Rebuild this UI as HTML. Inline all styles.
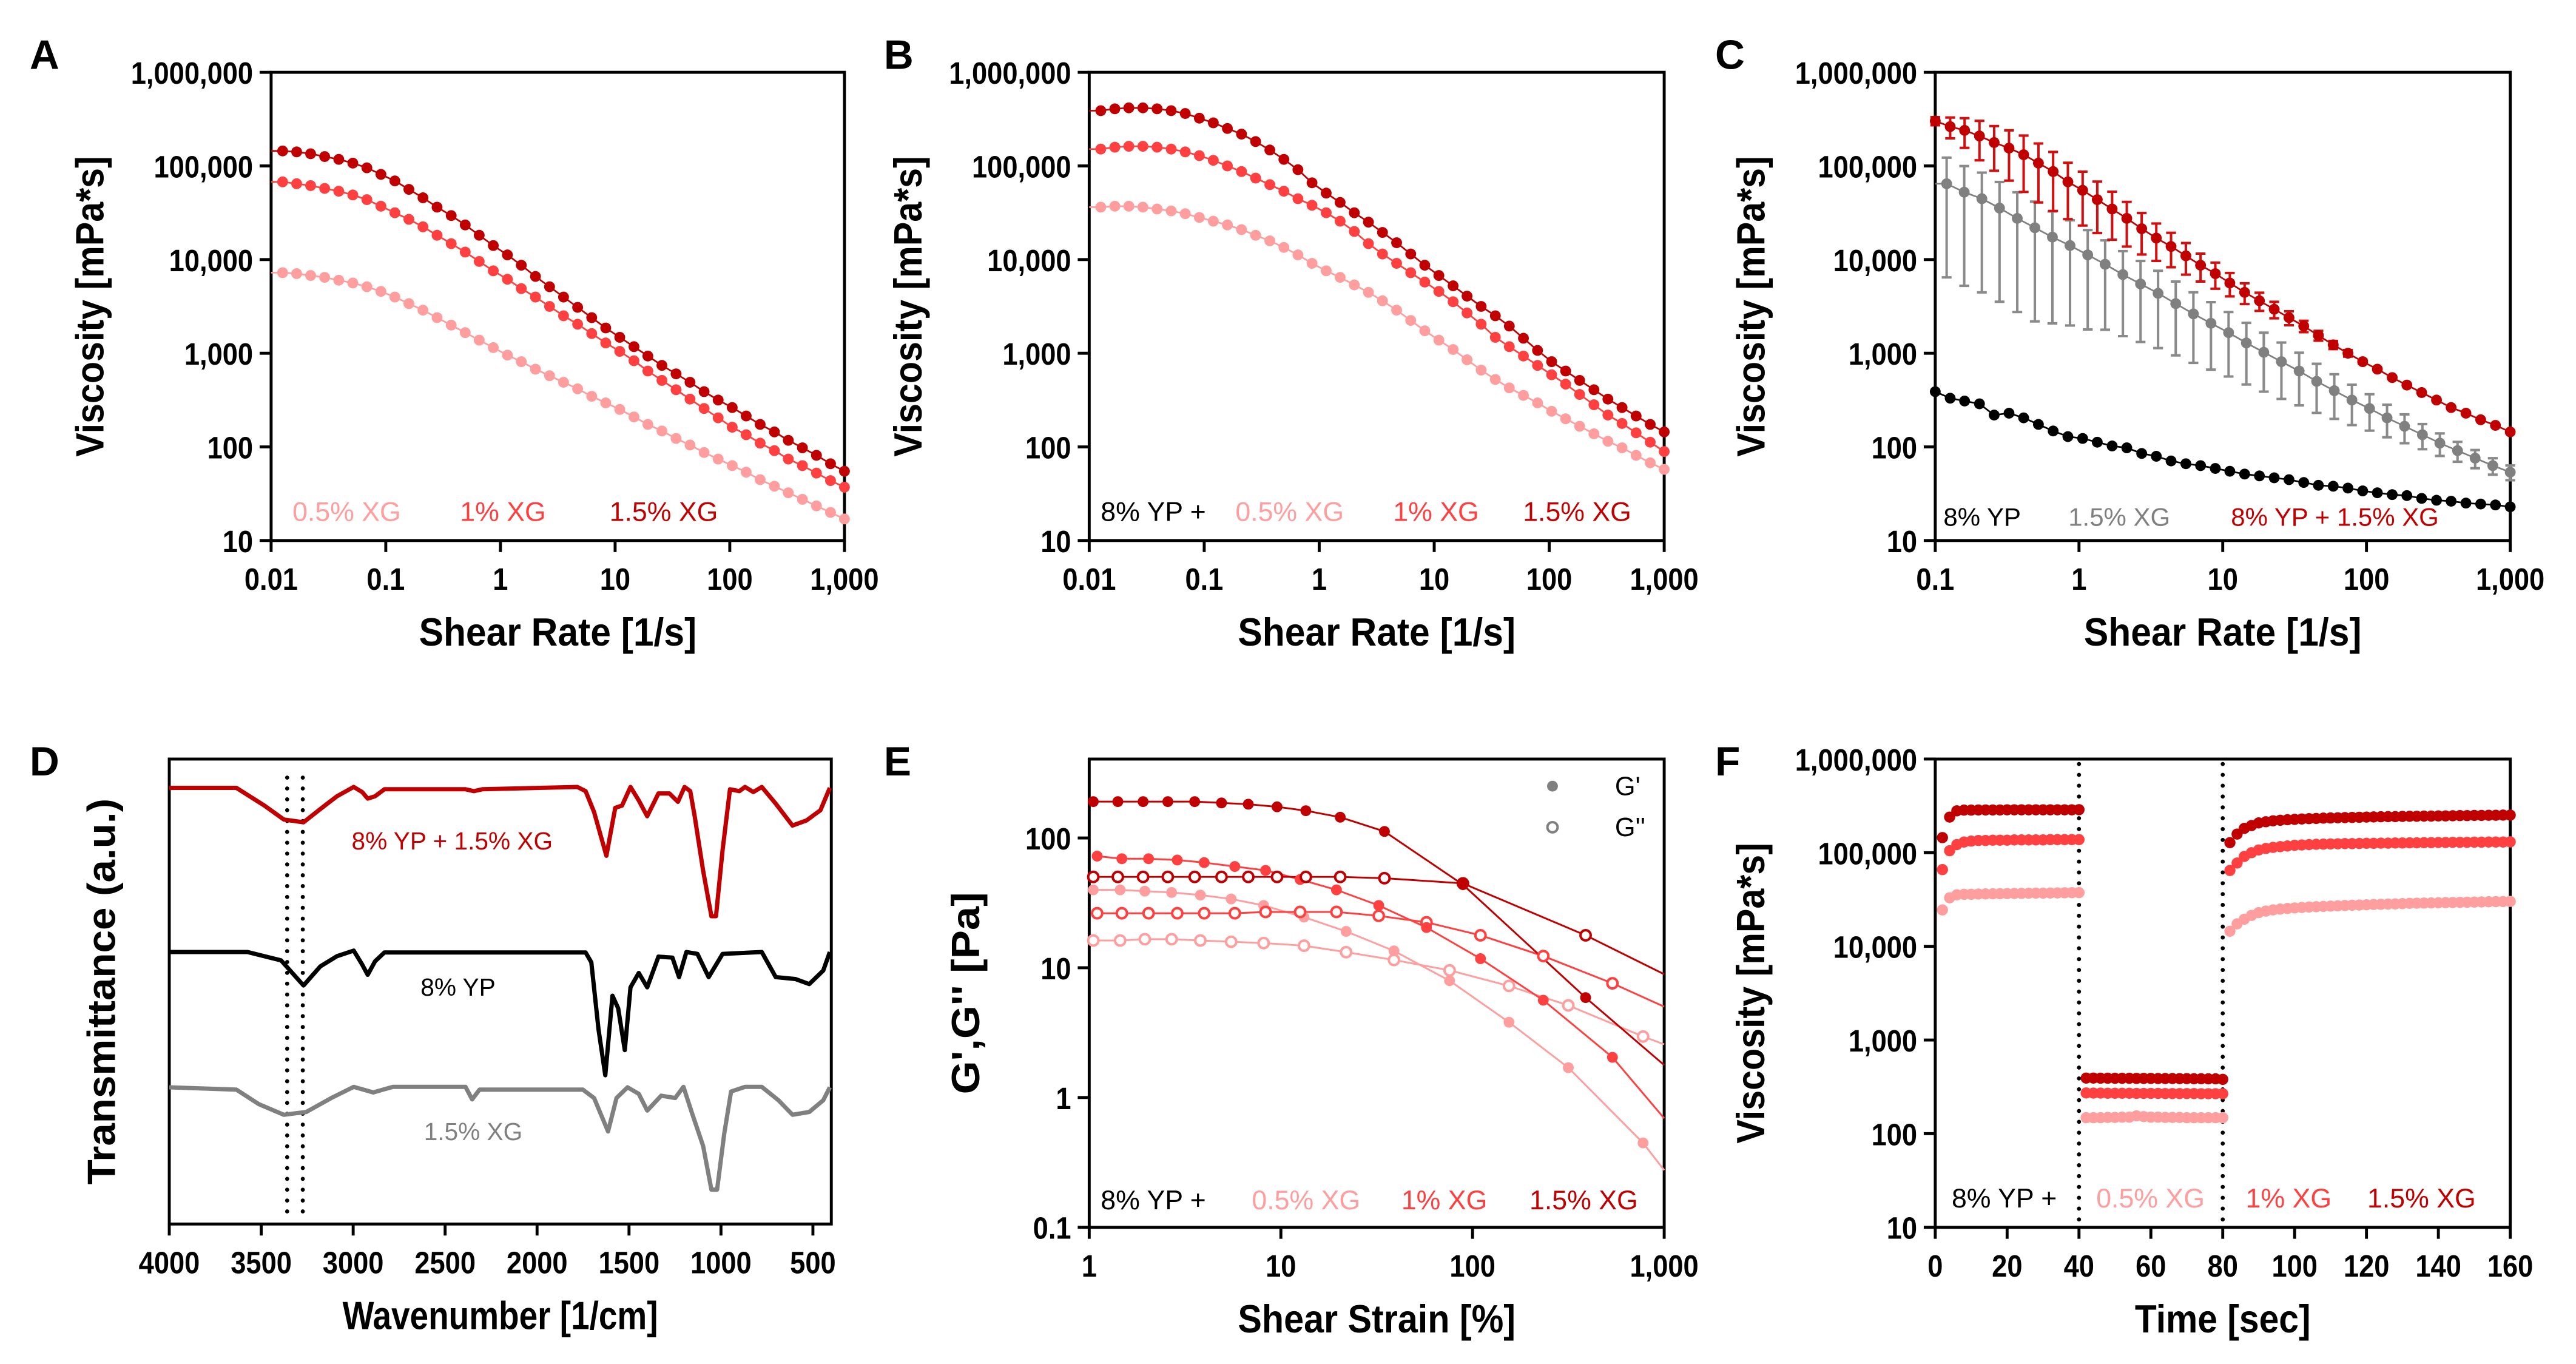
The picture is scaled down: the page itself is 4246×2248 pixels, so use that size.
<!DOCTYPE html>
<html><head><meta charset="utf-8">
<style>
html,body{margin:0;padding:0;background:#fff;}
svg{display:block;font-family:"Liberation Sans",Arial,sans-serif;}
</style></head>
<body>
<svg id="fig" width="4246" height="2248" viewBox="0 0 1568 830.2" xmlns="http://www.w3.org/2000/svg"></svg>
<script>
// ---------- Panel A/B data (shear rate grid, log10 viscosity mPa*s) ----------
const shearRateAB=[0.0126,0.0167,0.0221,0.0293,0.0389,0.0516,0.0684,0.0907,0.120,0.159,0.211,0.280,0.372,0.493,0.653,0.866,1.15,1.52,2.02,2.68,3.55,4.71,6.25,8.28,10.98,14.6,19.3,25.6,34.0,45.0,59.7,79.2,105,139,184,245,324,430,570,756,1000];
const logViscA15=[5.16,5.15,5.13,5.10,5.07,5.03,4.98,4.91,4.84,4.75,4.66,4.56,4.47,4.37,4.26,4.15,4.05,3.94,3.82,3.71,3.60,3.49,3.38,3.27,3.17,3.07,2.97,2.87,2.78,2.69,2.59,2.50,2.42,2.33,2.24,2.16,2.07,1.99,1.91,1.82,1.74];
const logViscA10=[4.83,4.81,4.79,4.76,4.73,4.69,4.64,4.57,4.50,4.43,4.35,4.26,4.17,4.08,3.98,3.88,3.79,3.69,3.60,3.50,3.40,3.31,3.21,3.11,3.02,2.92,2.81,2.71,2.61,2.51,2.41,2.31,2.21,2.13,2.04,1.96,1.87,1.80,1.72,1.64,1.57];
const logViscA05=[3.86,3.85,3.83,3.81,3.78,3.75,3.71,3.66,3.60,3.53,3.46,3.38,3.30,3.22,3.14,3.06,2.98,2.91,2.83,2.76,2.69,2.62,2.54,2.47,2.40,2.32,2.24,2.17,2.09,2.02,1.94,1.87,1.80,1.73,1.65,1.58,1.51,1.44,1.37,1.30,1.23];
const logViscB15=[5.59,5.61,5.62,5.62,5.61,5.59,5.56,5.51,5.46,5.40,5.34,5.26,5.17,5.07,4.96,4.82,4.71,4.61,4.50,4.40,4.29,4.18,4.06,3.94,3.83,3.72,3.61,3.50,3.40,3.29,3.16,3.03,2.91,2.81,2.71,2.61,2.51,2.42,2.33,2.24,2.16];
const logViscB10=[5.18,5.20,5.21,5.21,5.20,5.18,5.15,5.11,5.06,5.00,4.94,4.87,4.80,4.73,4.65,4.58,4.50,4.41,4.30,4.17,4.06,3.96,3.86,3.76,3.66,3.55,3.43,3.31,3.17,3.07,2.97,2.87,2.77,2.67,2.56,2.45,2.34,2.25,2.15,2.05,1.95];
const logViscB05=[4.56,4.57,4.57,4.56,4.54,4.52,4.49,4.45,4.41,4.37,4.32,4.26,4.20,4.13,4.05,3.96,3.88,3.81,3.73,3.65,3.56,3.46,3.35,3.24,3.14,3.04,2.93,2.82,2.72,2.63,2.55,2.47,2.38,2.30,2.22,2.14,2.06,1.99,1.91,1.83,1.76];

// ---------- Panel C data ----------
const shearRateC=[0.1,0.127,0.160,0.203,0.257,0.326,0.412,0.522,0.661,0.837,1.06,1.34,1.70,2.15,2.73,3.45,4.37,5.54,7.01,8.88,11.2,14.2,18.0,22.8,28.9,36.6,46.3,58.7,74.3,94.1,119,151,191,242,307,388,492,623,789,1000];
const logViscCmix=[5.48,5.42,5.38,5.32,5.25,5.19,5.12,5.03,4.94,4.83,4.74,4.64,4.54,4.44,4.33,4.23,4.14,4.04,3.94,3.85,3.75,3.65,3.56,3.47,3.38,3.29,3.19,3.09,3.00,2.91,2.83,2.74,2.66,2.58,2.50,2.42,2.36,2.29,2.23,2.16];
const cvCmix=[0.1,0.25,0.35,0.45,0.5,0.55,0.6,0.62,0.62,0.6,0.58,0.56,0.53,0.5,0.47,0.43,0.4,0.37,0.33,0.31,0.28,0.25,0.22,0.2,0.17,0.14,0.12,0.1,0.08,0.05,0,0,0,0,0,0,0,0,0,0];
const shearRateCxg=shearRateAB.slice(8);
const logViscCxg=[4.81,4.72,4.65,4.55,4.44,4.34,4.24,4.15,4.05,3.95,3.84,3.74,3.64,3.53,3.42,3.32,3.22,3.11,3.01,2.91,2.81,2.70,2.60,2.50,2.41,2.31,2.22,2.13,2.04,1.96,1.88,1.80,1.73];
const cvCxg=[0.9,0.9,0.9,0.9,0.9,0.9,0.88,0.86,0.84,0.8,0.78,0.76,0.74,0.72,0.7,0.68,0.66,0.64,0.62,0.6,0.57,0.54,0.5,0.46,0.42,0.38,0.34,0.3,0.27,0.24,0.22,0.2,0.18];
const logViscCyp=[2.59,2.52,2.49,2.46,2.34,2.36,2.31,2.24,2.17,2.11,2.09,2.05,2.01,1.99,1.93,1.90,1.85,1.82,1.80,1.77,1.74,1.71,1.69,1.67,1.65,1.62,1.59,1.58,1.56,1.53,1.51,1.49,1.48,1.45,1.43,1.42,1.40,1.39,1.38,1.36];

// ---------- Panel D data (FTIR) ----------
const wnMix=[4000,3635,3483,3377,3270,3164,3088,2997,2951,2921,2881,2830,2389,2343,2298,1781,1736,1690,1623,1575,1538,1492,1447,1401,1340,1280,1234,1198,1167,1143,1097,1052,1027,991,951,900,869,824,778,702,611,535,459,408];
const trMix=[93.8,93.8,90.0,87.0,86.4,89.7,92.0,94.0,92.9,91.5,92.0,93.5,93.5,93.1,93.5,94.0,93.1,88.6,79.2,89.5,90.0,94.0,91.1,87.7,92.6,92.6,90.8,94.0,93.1,87.7,76.0,66.2,66.2,80.5,93.5,93.1,94.0,92.9,94.0,90.4,85.7,86.8,89.0,93.8];
const wnYP=[4000,3574,3392,3270,3179,3088,2997,2951,2921,2881,2830,1736,1705,1666,1629,1590,1559,1523,1492,1447,1401,1340,1264,1228,1188,1128,1067,991,778,702,596,520,444,408];
const trYP=[58.5,58.5,56.7,51.3,55.4,57.6,58.8,55.8,53.6,56.5,58.4,58.4,56.3,41.9,32.0,49.1,46.4,37.4,50.9,54.0,50.9,57.5,57.3,53.1,58.5,58.1,53.1,58.1,58.5,53.1,52.7,51.6,54.5,58.5];
const wnXG=[4000,3635,3514,3377,3255,3119,2997,2891,2784,2389,2353,2313,1751,1690,1614,1568,1508,1447,1401,1325,1249,1204,1158,1097,1052,1021,982,945,869,778,687,611,520,444,408];
const trXG=[29.4,28.9,25.8,23.5,24.1,27.1,29.5,28.3,29.5,29.5,26.8,28.9,28.9,27.1,19.9,27.1,29.4,28.0,24.4,27.6,27.1,29.5,23.9,16.8,7.4,7.4,19.5,28.5,29.5,29.5,26.6,23.5,24.1,26.6,29.4];
const wnMarkers=[3359,3274];

// ---------- Panel E data (amplitude sweep, log10 Pa) ----------
const strainE15=[1.05,1.41,1.91,2.57,3.55,4.9,6.76,9.55,13.5,20.4,34.7,89.1,389,1000];
const logGp15=[2.28,2.28,2.28,2.28,2.28,2.27,2.26,2.24,2.21,2.16,2.05,1.64,0.77,0.25];
const logGpp15=[1.70,1.70,1.70,1.70,1.70,1.70,1.70,1.70,1.70,1.70,1.69,1.65,1.25,0.95];
const strainE10=[1.1,1.48,2.04,2.88,3.98,5.75,8.32,12.6,19.5,32.4,57.5,110,234,537,1000];
const logGp10=[1.86,1.84,1.84,1.83,1.81,1.78,1.75,1.68,1.60,1.48,1.31,1.07,0.75,0.31,-0.16];
const logGpp10=[1.42,1.42,1.42,1.42,1.42,1.42,1.43,1.43,1.43,1.40,1.35,1.25,1.09,0.88,0.70];
const strainE05=[1.05,1.45,1.95,2.69,3.8,5.5,8.13,13.2,21.9,38.9,75.9,155,316,776,1000];
const logGp05=[1.60,1.60,1.59,1.58,1.56,1.53,1.48,1.39,1.28,1.13,0.90,0.58,0.23,-0.35,-0.56];
const logGpp05=[1.21,1.21,1.22,1.22,1.21,1.20,1.19,1.17,1.12,1.06,0.98,0.86,0.71,0.47,0.41];

// ---------- Panel F data (3-interval thixotropy, mPa*s) ----------
const timeF=[2,4,6,8,10,12,14,16,18,20,22,24,26,28,30,32,34,36,38,40,42,44,46,48,50,52,54,56,58,60,62,64,66,68,70,72,74,76,78,80,82,84,86,88,90,92,94,96,98,100,102,104,106,108,110,112,114,116,118,120,122,124,126,128,130,132,134,136,138,140,142,144,146,148,150,152,154,156,158,160];
const viscF15=[145000,240000,280000,285000,285000,286000,286000,286000,286000,287000,287000,287000,287000,287000,287000,287000,287000,287000,287000,288000,
392,392,391,391,390,390,390,389,389,389,388,388,388,387,387,386,386,385,385,380,
128000,158000,182000,195000,208000,214000,219000,222000,225000,227000,229000,231000,232000,234000,235000,236000,237000,238000,239000,240000,241000,242000,243000,243000,244000,245000,245000,246000,246000,247000,247000,248000,249000,249000,250000,250000,251000,251000,252000,252000];
const viscF10=[66000,105000,122000,130000,133000,135000,135000,136000,136000,136000,137000,137000,137000,137000,137000,138000,138000,138000,138000,138000,
272,271,271,270,270,270,270,269,269,269,269,268,268,268,268,268,267,267,267,267,
64600,77600,91200,100000,107000,111000,114000,116000,118000,120000,121000,122000,123000,123500,124000,124500,125000,125000,125500,126000,126000,126500,126500,127000,127000,127500,127500,128000,128000,128500,128500,129000,129000,129000,129500,129500,130000,130000,130000,130500];
const viscF05=[24500,33000,35500,36000,36000,36200,36300,36400,36500,36600,36700,36800,36900,37000,37000,37100,37200,37300,37400,37500,
148,148,148,149,149,150,150,155,152,150,150,149,149,149,148,148,148,148,148,148,
14500,17400,19500,21400,22900,23800,24500,25000,25400,25700,26000,26300,26500,26700,26900,27100,27300,27500,27600,27800,28000,28100,28300,28400,28600,28800,28900,29000,29100,29200,29300,29400,29500,29600,29700,29800,29900,30000,30100,30200];
const intervalBoundsF=[40,80];

// ---------- Tick data ----------
const viscTicks=[10,100,1000,10000,100000,1000000];
const viscTickLabels=['10','100','1,000','10,000','100,000','1,000,000'];
const rateTicksAB=[0.01,0.1,1,10,100,1000];
const rateTickLabelsAB=['0.01','0.1','1','10','100','1,000'];
const rateTicksC=[0.1,1,10,100,1000];
const rateTickLabelsC=['0.1','1','10','100','1,000'];
const wnTicks=[4000,3500,3000,2500,2000,1500,1000,500];
const wnTickLabels=['4000','3500','3000','2500','2000','1500','1000','500'];
const strainTicks=[1,10,100,1000];
const strainTickLabels=['1','10','100','1,000'];
const modTicks=[0.1,1,10,100];
const modTickLabels=['0.1','1','10','100'];
const timeTicks=[0,20,40,60,80,100,120,140,160];
const timeTickLabels=['0','20','40','60','80','100','120','140','160'];

const DARK='#C00000', MID='#FF4040', LIGHT='#FF9E9E', GRAY='#808080';
const NS='http://www.w3.org/2000/svg';
const svg=document.getElementById('fig');
function mk(tag,parent,attrs){const e=document.createElementNS(NS,tag);for(const k in attrs)e.setAttribute(k,attrs[k]);parent.appendChild(e);return e;}
function logS(d0,d1,r0,r1){return v=>r0+(Math.log10(v)-d0)/(d1-d0)*(r1-r0);}
function linS(d0,d1,r0,r1){return v=>r0+(v-d0)/(d1-d0)*(r1-r0);}
const pw=a=>a.map(v=>Math.pow(10,v));

function axes(g,b,xt,xl,yt,yl,sx,sy,xTitle,xTitleLen,yTitle,yTitleLen,yTitleX,letter,lx,ly){
  const box=mk('rect',g,{x:b.x0,y:b.y0,width:b.x1-b.x0,height:b.y1-b.y0,fill:'none',stroke:'#000','stroke-width':1.8});
  
  
  xt.forEach((v,i)=>{
    const x=sx(v);
    const t=mk('line',g,{x1:x,x2:x,y1:b.y1,y2:b.y1+7,stroke:'#000','stroke-width':1.8});
    
    
    const l=mk('text',g,{x:0,y:0,transform:`translate(${x} ${b.y1+30}) scale(0.88 1)`,'text-anchor':'middle','font-size':19,'font-weight':'bold'});
    l.textContent=xl[i];
    
    
  });
  yt.forEach((v,i)=>{
    const y=sy(v);
    const t=mk('line',g,{x1:b.x0-7,x2:b.x0,y1:y,y2:y,stroke:'#000','stroke-width':1.8});
    
    
    const l=mk('text',g,{x:0,y:0,transform:`translate(${b.x0-11} ${y+7}) scale(0.88 1)`,'text-anchor':'end','font-size':19,'font-weight':'bold'});
    l.textContent=yl[i];
    
    
  });
  const xtT=mk('text',g,{x:(b.x0+b.x1)/2,y:b.y1+64,'text-anchor':'middle','font-size':24,'font-weight':'bold',textLength:xTitleLen,lengthAdjust:'spacingAndGlyphs'});
  xtT.textContent=xTitle;
  
  
  const cy=(b.y0+b.y1)/2;
  const ytT=mk('text',g,{x:yTitleX,y:cy,'text-anchor':'middle','font-size':24,'font-weight':'bold',transform:`rotate(-90 ${yTitleX} ${cy})`,textLength:yTitleLen,lengthAdjust:'spacingAndGlyphs'});
  ytT.textContent=yTitle;
  
  
  const L=mk('text',g,{x:lx,y:ly,'font-size':25,'font-weight':'bold'});
  L.textContent=letter;
  
  
}
function line(g,xs,ys,sx,sy,color,w,startX){
  let pts=xs.map((x,i)=>sx(x).toFixed(2)+','+sy(ys[i]).toFixed(2)).join(' ');
  if(startX!==undefined) pts=startX+','+sy(ys[0]).toFixed(2)+' '+pts;
  const p=mk('polyline',g,{points:pts,fill:'none',stroke:color,'stroke-width':w,'stroke-linejoin':'round'});
  return p;
}
function dots(g,xs,ys,sx,sy,color,r,open,skipAbove){
  xs.forEach((x,i)=>{
    if(skipAbove!==undefined && x>=skipAbove) return;
    const c=mk('circle',g,{cx:sx(x),cy:sy(ys[i]),r:r,fill:open?'#fff':color,stroke:open?color:'none','stroke-width':open?1.5:0});
    
    
  });
}
function label(g,x,y,s,color,size){
  const t=mk('text',g,{x:x,y:y,'font-size':size||16.5,fill:color});
  t.textContent=s;
  return t;
}

// ===== Panel A =====
(function(){
  const g=mk('g',svg,{});
  
  
  const b={x0:165,x1:514,y0:44,y1:329};
  const sx=logS(-2,3,b.x0,b.x1), sy=logS(1,6,b.y1,b.y0);
  axes(g,b,rateTicksAB,rateTickLabelsAB,viscTicks,viscTickLabels,sx,sy,'Shear Rate [1/s]',169,'Viscosity [mPa*s]',183,63,'A',18,42);
  [[logViscA05,LIGHT,'series-0-5-xg'],[logViscA10,MID,'series-1-xg'],[logViscA15,DARK,'series-1-5-xg']].forEach(s=>{
    const v=pw(s[0]);
    const l=line(g,shearRateAB,v,sx,sy,s[1],1,b.x0);
    
    
    dots(g,shearRateAB,v,sx,sy,s[1],3.3,false);
  });
  let t;
  t=label(g,178,317,'0.5% XG',LIGHT);
  
  
  t=label(g,280,317,'1% XG',MID);
  
  
  t=label(g,371,317,'1.5% XG',DARK);
  
  
})();

// ===== Panel B =====
(function(){
  const g=mk('g',svg,{});
  
  
  const b={x0:663,x1:1013,y0:44,y1:329};
  const sx=logS(-2,3,b.x0,b.x1), sy=logS(1,6,b.y1,b.y0);
  axes(g,b,rateTicksAB,rateTickLabelsAB,viscTicks,viscTickLabels,sx,sy,'Shear Rate [1/s]',169,'Viscosity [mPa*s]',183,561,'B',538,42);
  [[logViscB05,LIGHT,'series-0-5-xg'],[logViscB10,MID,'series-1-xg'],[logViscB15,DARK,'series-1-5-xg']].forEach(s=>{
    const v=pw(s[0]);
    const l=line(g,shearRateAB,v,sx,sy,s[1],1,b.x0);
    
    
    dots(g,shearRateAB,v,sx,sy,s[1],3.3,false);
  });
  let t;
  t=label(g,670,317,'8% YP +','#000');
  
  
  t=label(g,752,317,'0.5% XG',LIGHT);
  
  
  t=label(g,848,317,'1% XG',MID);
  
  
  t=label(g,927,317,'1.5% XG',DARK);
  
  
})();

// ===== Panel C =====
(function(){
  const g=mk('g',svg,{});
  
  
  const b={x0:1178,x1:1528,y0:44,y1:329};
  const sx=logS(-1,3,b.x0,b.x1), sy=logS(1,6,b.y1,b.y0);
  axes(g,b,rateTicksC,rateTickLabelsC,viscTicks,viscTickLabels,sx,sy,'Shear Rate [1/s]',169,'Viscosity [mPa*s]',183,1074,'C',1044,42);
  function errs(xs,logs,cv,color){
    xs.forEach((x,i)=>{
      if(!cv[i]) return;
      const m=Math.pow(10,logs[i]), sd=m*cv[i];
      const X=sx(x), yt=sy(m+sd), yb=sy(Math.max(m-sd,m*0.05));
      const e=mk('path',g,{d:`M${X},${yt}V${yb}M${X-3},${yt}H${X+3}M${X-3},${yb}H${X+3}`,stroke:color,'stroke-width':1.5,fill:'none'});
      
      
    });
  }
  errs(shearRateCxg,logViscCxg,cvCxg,'#8a8a8a');
  errs(shearRateC,logViscCmix,cvCmix,'#D01010');
  let l;
  l=line(g,shearRateC,pw(logViscCyp),sx,sy,'#000',1);
  
  
  dots(g,shearRateC,pw(logViscCyp),sx,sy,'#000',3.3,false);
  l=line(g,shearRateCxg,pw(logViscCxg),sx,sy,GRAY,1,b.x0);
  
  
  dots(g,shearRateCxg,pw(logViscCxg),sx,sy,GRAY,3.3,false);
  l=line(g,shearRateC,pw(logViscCmix),sx,sy,DARK,1);
  
  
  dots(g,shearRateC,pw(logViscCmix),sx,sy,DARK,3.3,false);
  let t;
  t=label(g,1183,320,'8% YP','#000',15.5);
  
  
  t=label(g,1259,320,'1.5% XG',GRAY,15.5);
  
  
  t=label(g,1358,320,'8% YP + 1.5% XG',DARK,15.5);
  
  
})();

// ===== Panel D =====
(function(){
  const g=mk('g',svg,{});
  
  
  const b={x0:103,x1:506,y0:462,y1:745};
  const sx=linS(4000,400,b.x0,b.x1), sy=linS(0,100,b.y1,b.y0);
  axes(g,b,wnTicks,wnTickLabels,[],[],sx,sy,'Wavenumber [1/cm]',192,'Transmittance (a.u.)',235,70,'D',18,472);
  wnMarkers.forEach(w=>{
    const d=mk('line',g,{x1:sx(w),x2:sx(w),y1:sy(96),y2:sy(2),stroke:'#000','stroke-width':2.5,'stroke-dasharray':'0 6.6','stroke-linecap':'round'});
    
    
  });
  let l;
  l=line(g,wnMix,trMix,sx,sy,'#C00000',2.6);
  
  
  l=line(g,wnYP,trYP,sx,sy,'#000',2.6);
  
  
  l=line(g,wnXG,trXG,sx,sy,GRAY,2.6);
  
  
  let t;
  t=label(g,214,517,'8% YP + 1.5% XG',DARK,15);
  
  
  t=label(g,256,606,'8% YP','#000',15);
  
  
  t=label(g,258,694,'1.5% XG',GRAY,15);
  
  
})();

// ===== Panel E =====
(function(){
  const g=mk('g',svg,{});
  
  
  const b={x0:663,x1:1013,y0:462,y1:747};
  const sx=logS(0,3,b.x0,b.x1), sy=logS(-1,2.608,b.y1,b.y0);
  axes(g,b,strainTicks,strainTickLabels,modTicks,modTickLabels,sx,sy,'Shear Strain [%]',169,"G',G'' [Pa]",123,596,'E',538,472);
  const series=[
    [strainE05,logGpp05,LIGHT,true,'g2-0-5-xg'],[strainE05,logGp05,LIGHT,false,'g1-0-5-xg'],
    [strainE10,logGpp10,MID,true,'g2-1-xg'],[strainE10,logGp10,MID,false,'g1-1-xg'],
    [strainE15,logGpp15,DARK,true,'g2-1-5-xg'],[strainE15,logGp15,DARK,false,'g1-1-5-xg']];
  series.forEach(s=>{
    const v=pw(s[1]);
    const l=line(g,s[0],v,sx,sy,s[2],1.1);
    
    
  });
  series.forEach(s=>{ dots(g,s[0],pw(s[1]),sx,sy,s[2],s[3]?3.1:3.3,s[3],999); });
  let c;
  c=mk('circle',g,{cx:945,cy:478.5,r:3.3,fill:GRAY});
  
  
  c=mk('circle',g,{cx:945,cy:503.5,r:3.1,fill:'#fff',stroke:GRAY,'stroke-width':1.5});
  
  
  let t;
  t=label(g,983,484,"G'",'#000',16);
  
  
  t=label(g,983,509,"G''",'#000',16);
  
  
  t=label(g,670,736,'8% YP +','#000');
  
  
  t=label(g,762,736,'0.5% XG',LIGHT);
  
  
  t=label(g,853,736,'1% XG',MID);
  
  
  t=label(g,931,736,'1.5% XG',DARK);
  
  
})();

// ===== Panel F =====
(function(){
  const g=mk('g',svg,{});
  
  
  const b={x0:1178,x1:1528,y0:462,y1:747};
  const sx=linS(0,160,b.x0,b.x1), sy=logS(1,6,b.y1,b.y0);
  axes(g,b,timeTicks,timeTickLabels,viscTicks,viscTickLabels,sx,sy,'Time [sec]',107,'Viscosity [mPa*s]',183,1074,'F',1044,472);
  intervalBoundsF.forEach(tb=>{
    const d=mk('line',g,{x1:sx(tb),x2:sx(tb),y1:b.y0+3,y2:b.y1-4,stroke:'#000','stroke-width':2.5,'stroke-dasharray':'0 6.6','stroke-linecap':'round'});
    
    
  });
  dots(g,timeF,viscF05,sx,sy,LIGHT,3.4,false);
  dots(g,timeF,viscF10,sx,sy,MID,3.4,false);
  dots(g,timeF,viscF15,sx,sy,DARK,3.4,false);
  let t;
  t=label(g,1188,735,'8% YP +','#000');
  
  
  t=label(g,1276,735,'0.5% XG',LIGHT);
  
  
  t=label(g,1367,735,'1% XG',MID);
  
  
  t=label(g,1441,735,'1.5% XG',DARK);
  
  
})();
</script>
</body></html>
